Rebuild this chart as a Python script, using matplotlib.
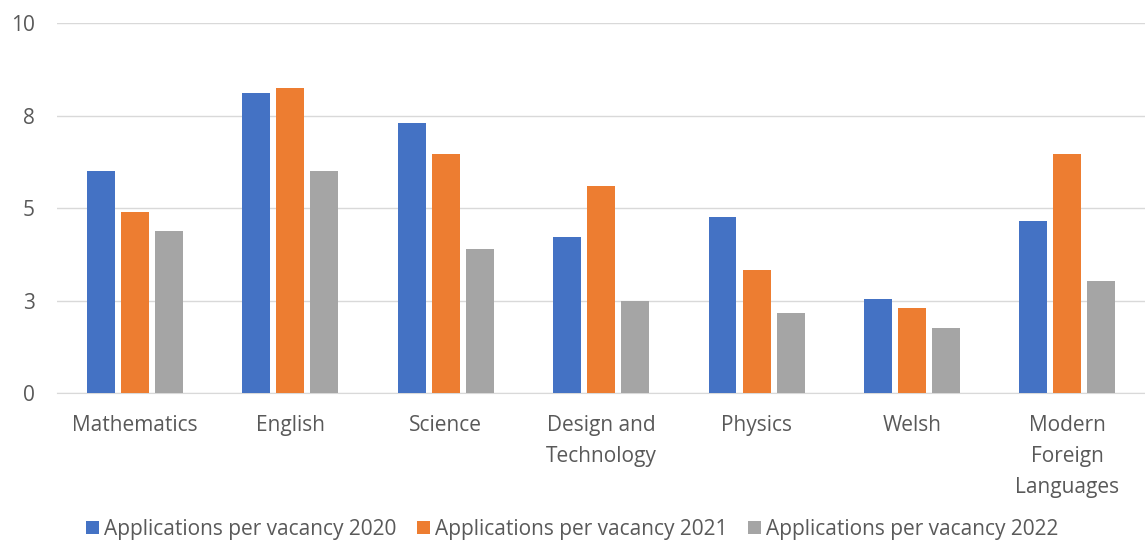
import matplotlib.pyplot as plt
import numpy as np
from matplotlib.ticker import FixedLocator, FixedFormatter

categories = ["Mathematics", "English", "Science", "Design and\nTechnology",
              "Physics", "Welsh", "Modern\nForeign\nLanguages"]
series_names = ["Applications per vacancy 2020", "Applications per vacancy 2021",
                "Applications per vacancy 2022"]
v2020 = [6.0, 8.11, 7.30, 4.22, 4.76, 2.54, 4.65]
v2021 = [4.89, 8.24, 6.46, 5.59, 3.32, 2.30, 6.46]
v2022 = [4.38, 6.0, 3.89, 2.49, 2.16, 1.76, 3.03]
ytick_vals = [0, 2.5, 5, 7.5, 10]
ytick_labels = ["0", "3", "5", "8", "10"]

colors = ["#4472C4", "#ED7D31", "#A5A5A5"]
plt.rcParams['font.family'] = ['Open Sans', 'DejaVu Sans']

fig = plt.figure(figsize=(11.45, 5.4), dpi=100)
ax = fig.add_axes([0.05, 0.272, 0.95, 0.685])
x = np.arange(len(categories))
w = 0.18
step = 0.219
for i, (vals, c, n) in enumerate(zip([v2020, v2021, v2022], colors, series_names)):
    ax.bar(x + (i - 1) * step, vals, width=w, color=c, label=n, zorder=3)

ax.set_xlim(-0.5, len(categories) - 0.5)
ax.set_ylim(0, 10)
ax.yaxis.set_major_locator(FixedLocator(ytick_vals))
ax.yaxis.set_major_formatter(FixedFormatter(ytick_labels))
ax.grid(axis='y', color='#D9D9D9', linewidth=1, zorder=0)
for s in ['top', 'right', 'left']:
    ax.spines[s].set_visible(False)
ax.spines['bottom'].set_color('#D9D9D9')
ax.set_xticks(x)
ax.set_xticklabels(categories, linespacing=1.6)
ax.tick_params(axis='both', length=0, labelsize=15, colors='#595959')
ax.tick_params(axis='x', pad=16)
ax.tick_params(axis='y', pad=16)

leg = fig.legend(loc='center', bbox_to_anchor=(0.5, 0.02), ncol=3, frameon=False,
                 fontsize=15, handlelength=0.6, handleheight=0.6, handletextpad=0.25,
                 columnspacing=1.0)
for t in leg.get_texts():
    t.set_color('#595959')

fig.savefig('out.png', dpi=100)
